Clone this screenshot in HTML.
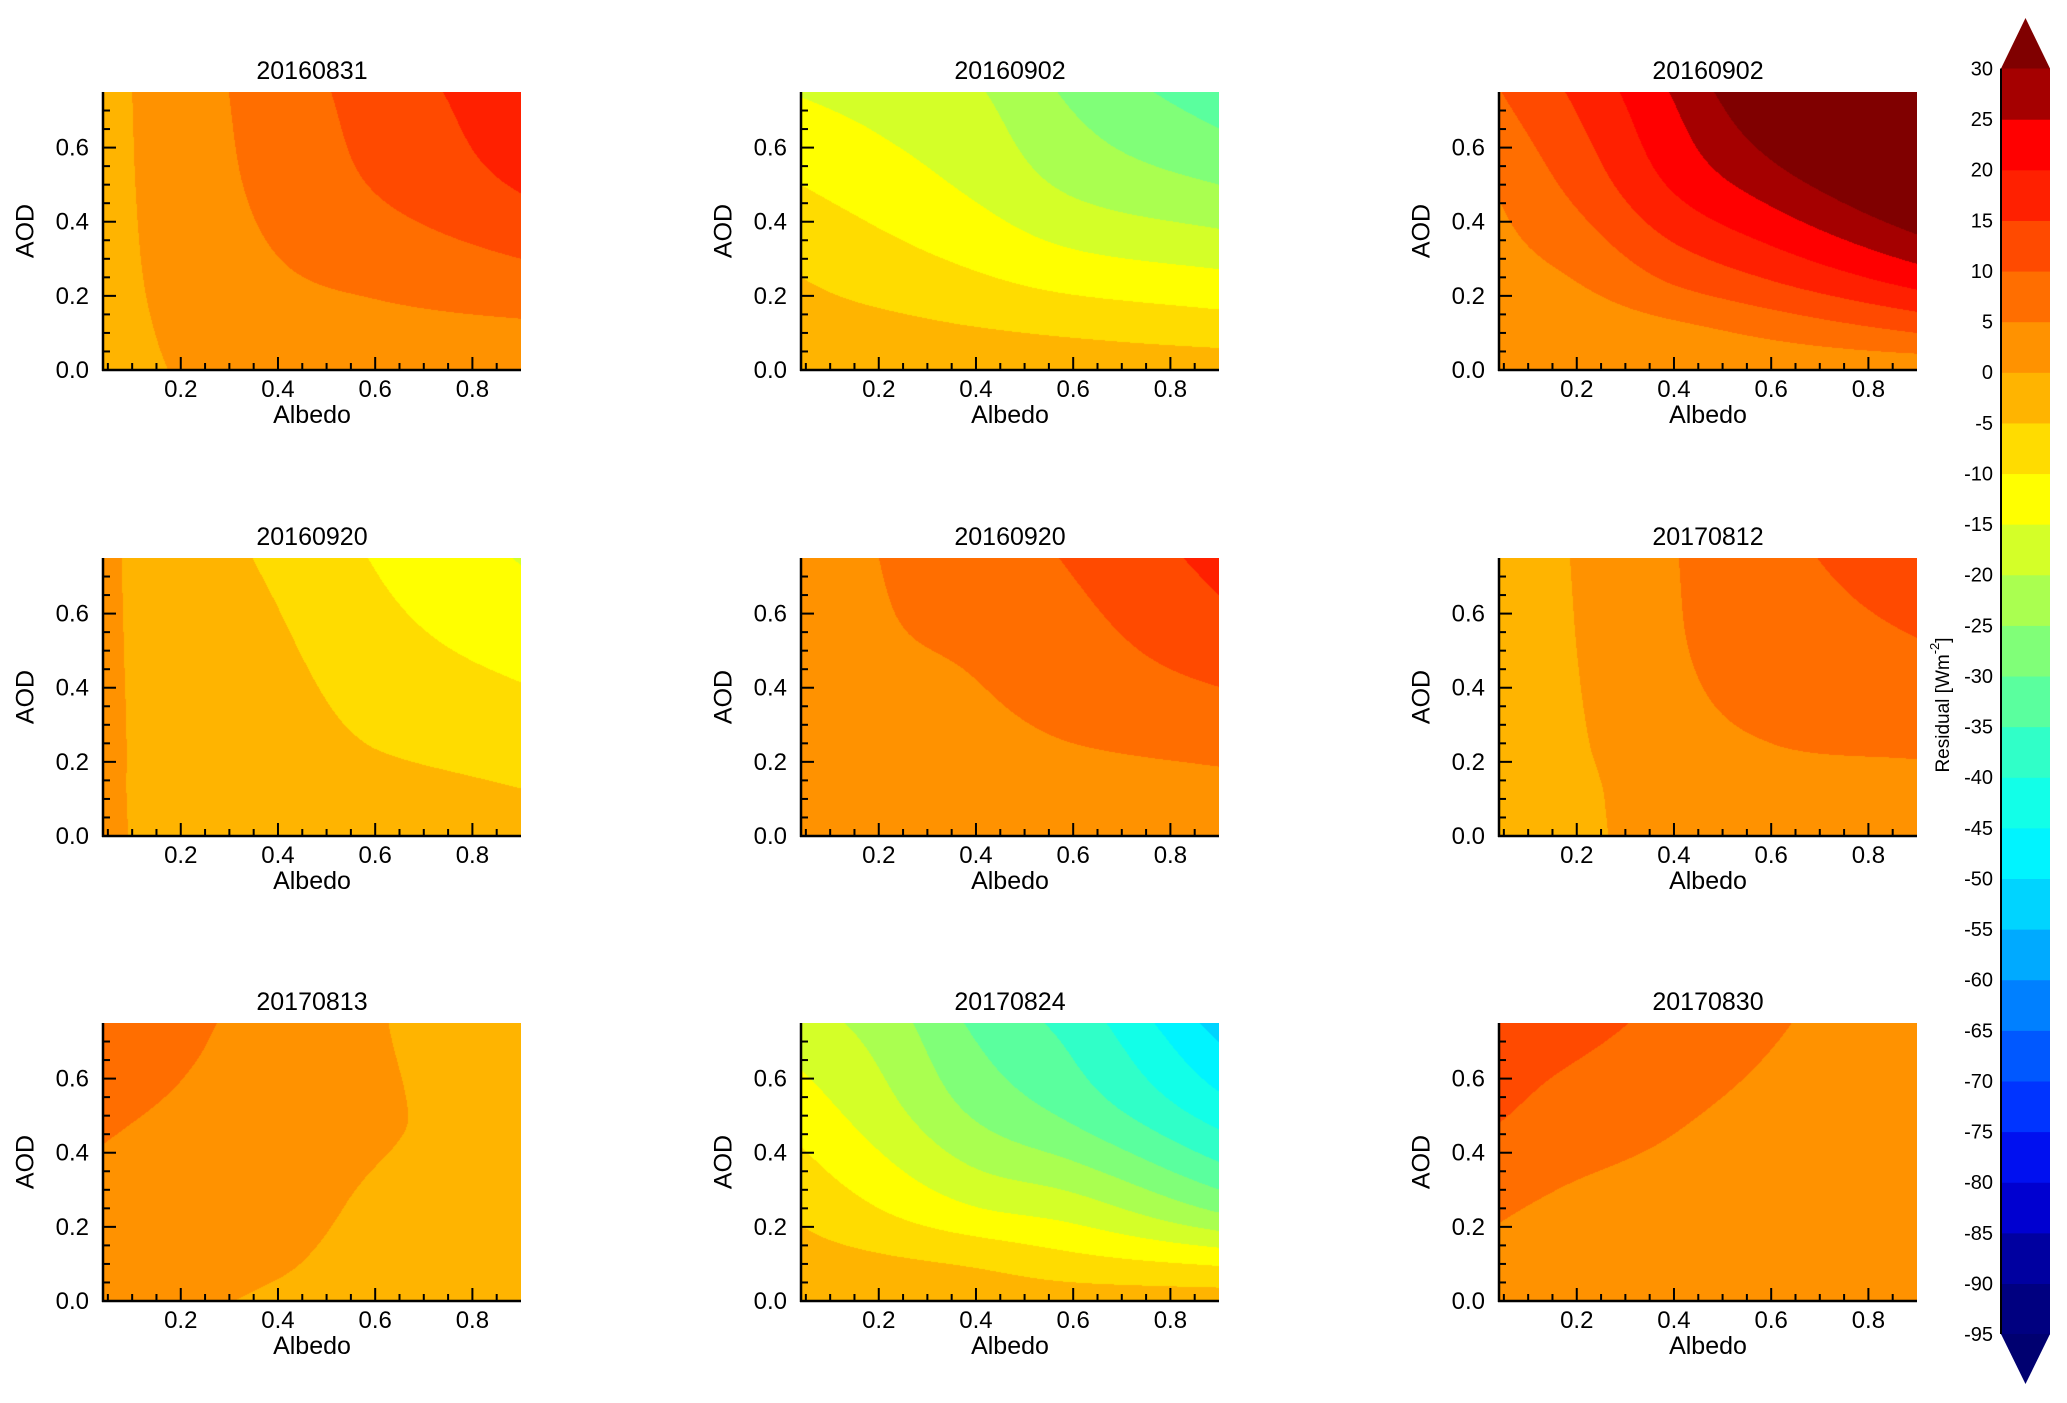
<!DOCTYPE html>
<html><head><meta charset="utf-8">
<style>
html,body{margin:0;padding:0;background:#fff;}
body{width:2067px;height:1403px;position:relative;overflow:hidden;font-family:"Liberation Sans",sans-serif;}
canvas{position:absolute;}
svg{position:absolute;left:0;top:0;}
</style></head>
<body>
<div id="root"></div>
<script>
// ---- data ----
const albedoGrid = [0.04, 0.2, 0.4, 0.6, 0.9];
const aodGrid = [0, 0.1, 0.25, 0.5, 0.75];
const panelTitles = ["20160831","20160902","20160902","20160920","20160920","20170812","20170813","20170824","20170830"];
// values[col][row] : col = albedo index, row = aod index
const p1 = [[-2,-1.8,-1.7,-1.6,-1.5],[0.3,0.8,1.5,2.2,2.5],[1.5,3,4.5,6.5,7.5],[2,3.5,6,10.3,12],[2.5,4,8.5,15.5,18.4]];
const p2 = [[-1.5,-3,-5,-10,-15.3],[-2,-3.5,-7,-12.5,-17],[-2,-4.5,-9.5,-16,-19.5],[-2,-5.5,-12,-21,-26],[-2,-7,-14,-25,-33]];
const p3 = [[1,2,3,5.5,9.8],[1,2,5.3,11.5,16],[1,3.5,11,20.7,25.5],[1,6,15.5,27.5,36],[1,10,22.5,37,45]];
const p4 = [[1,1,1,1,1],[-1.5,-1.8,-2,-2.5,-3],[-1.5,-2,-2.8,-4.3,-5.8],[-2,-3,-5.2,-8,-10.3],[-2.5,-4.5,-7,-11.5,-15.3]];
const p5 = [[2,2,2.5,3,3.5],[2.5,3,3.5,4.5,5],[2.5,3,4,5.5,7.5],[3,3.5,5,8,10.5],[3,4,6,12.5,16.5]];
const p6 = [[-3,-3,-3,-3,-3],[-1,-1,-0.5,0,0.3],[1.9,2.5,3.5,4.5,4.8],[2.5,3.5,5,7,8.5],[3,4,5.5,9.5,13]];
const p7 = [[2.5,3,4,5.5,7.5],[1,2,3,4.5,5.8],[-0.8,0.5,1.8,3.2,3.5],[-2.5,-1.8,-0.8,0.6,0.3],[-3,-2.8,-2.5,-1.5,-1.95]];
const p8 = [[-2,-3,-6,-12,-18],[-2,-4,-10,-17.5,-22],[-2,-5.5,-14.8,-25.5,-31],[-2,-8,-17.5,-31,-37],[-2,-10.5,-26,-42,-52]];
const p9 = [[3,4,5.5,10.3,12.5],[2.5,3,4,7.8,11.5],[2,2.5,3.3,5.5,8.5],[1.5,2,2.5,3.8,5.5],[1,1.5,2,2.3,2.5]];
const panels = [p1,p2,p3,p4,p5,p6,p7,p8,p9];
const levelColors = ["#000080","#0000a0","#0000d0","#0010f0","#0034ff","#0058ff","#0080ff","#00aaff","#00d4ff","#00f4ff","#12ffe8","#30ffc8","#5aff9e","#80ff78","#aaff50","#d4ff28","#ffff00","#ffdc00","#ffb400","#ff9200","#ff6e00","#ff4a00","#ff2000","#ff0000","#a50000"];
const overColor = "#800000", underColor = "#000070";
const cbTicks = [30,25,20,15,10,5,0,-5,-10,-15,-20,-25,-30,-35,-40,-45,-50,-55,-60,-65,-70,-75,-80,-85,-90,-95];
const xTicks = [0.2,0.4,0.6,0.8];
const yTicks = [0.0,0.2,0.4,0.6];

// ---- layout ----
const colLeft = [103, 801, 1499], rowTop = [92, 558, 1023];
const PW = 418, PH = 278;
const XMIN = 0.04, XMAX = 0.9, YMIN = 0, YMAX = 0.75;
const CB = {x:2001, w:49, top:68.5, bot:1334, vmax:30, vmin:-95};

const NS = "http://www.w3.org/2000/svg";
const svg = document.createElementNS(NS,"svg");
svg.setAttribute("width","2067"); svg.setAttribute("height","1403");
const root = document.getElementById("root");

function hex(c){return [parseInt(c.slice(1,3),16),parseInt(c.slice(3,5),16),parseInt(c.slice(5,7),16)];}
function colorFor(v){
  if(v>=30) return overColor;
  if(v<-95) return underColor;
  return levelColors[Math.floor((v+95)/5)];
}
// monotone cubic (Fritsch-Carlson) interpolation
function mono(xs,ys,x){
  const n=xs.length;
  if(x<=xs[0]) return ys[0]; if(x>=xs[n-1]) return ys[n-1];
  const d=[],m=[];
  for(let i=0;i<n-1;i++) d.push((ys[i+1]-ys[i])/(xs[i+1]-xs[i]));
  m[0]=d[0]; m[n-1]=d[n-2];
  for(let i=1;i<n-1;i++) m[i]=(d[i-1]*d[i]<=0)?0:(d[i-1]+d[i])/2;
  for(let i=0;i<n-1;i++){
    if(d[i]===0){m[i]=0;m[i+1]=0;continue;}
    const a=m[i]/d[i],b=m[i+1]/d[i],s=a*a+b*b;
    if(s>9){const t=3/Math.sqrt(s);m[i]=t*a*d[i];m[i+1]=t*b*d[i];}
  }
  let i=0; while(x>xs[i+1]) i++;
  const h=xs[i+1]-xs[i],t=(x-xs[i])/h,t2=t*t,t3=t2*t;
  return (2*t3-3*t2+1)*ys[i]+(t3-2*t2+t)*h*m[i]+(-2*t3+3*t2)*ys[i+1]+(t3-t2)*h*m[i+1];
}
function el(tag,attrs,parent){const e=document.createElementNS(NS,tag);for(const k in attrs)e.setAttribute(k,attrs[k]);(parent||svg).appendChild(e);return e;}

panels.forEach((g,idx)=>{
  const L=colLeft[idx%3], T=rowTop[Math.floor(idx/3)];
  const xs=v=>L+(v-XMIN)/(XMAX-XMIN)*PW;
  const ys=v=>T+PH-(v-YMIN)/(YMAX-YMIN)*PH;
  const cv=document.createElement("canvas");
  cv.width=PW; cv.height=PH;
  cv.style.left=L+"px"; cv.style.top=T+"px";
  
  
  const ctx=cv.getContext("2d"); const img=ctx.createImageData(PW,PH);
  for(let py=0;py<PH;py++){
    const d=YMAX-(py+0.5)/PH*(YMAX-YMIN);
    const colVals=g.map(col=>mono(aodGrid,col,d));
    for(let px=0;px<PW;px++){
      const a=XMIN+(px+0.5)/PW*(XMAX-XMIN);
      const c=hex(colorFor(mono(albedoGrid,colVals,a)));
      const o=(py*PW+px)*4; img.data[o]=c[0];img.data[o+1]=c[1];img.data[o+2]=c[2];img.data[o+3]=255;
    }
  }
  ctx.putImageData(img,0,0);
  root.appendChild(cv);

  const grp=el("g",{});
  
  
  const title=el("text",{x:L+PW/2,y:T-13,"text-anchor":"middle","font-size":"25","fill":"#000"},grp);
  title.textContent=panelTitles[idx];
  
  
  for(let k=1;k<=17;k++){
    const v=k*0.05; if(v<XMIN||v>XMAX) continue;
    const major=Math.abs(v*10-Math.round(v*10))<1e-6 && Math.round(v*10)%2===0;
    el("line",{x1:xs(v),x2:xs(v),y1:T+PH,y2:T+PH-(major?13:7),stroke:"#000","stroke-width":"2"},grp);
  }
  for(let k=0;k<=15;k++){
    const v=k*0.05; if(v>=YMAX) continue;
    const major=k%4===0;
    el("line",{x1:L,x2:L+(major?13:7),y1:ys(v),y2:ys(v),stroke:"#000","stroke-width":"2"},grp);
  }
  el("line",{x1:L,x2:L,y1:T,y2:T+PH+1,stroke:"#000","stroke-width":"2.5"},grp);
  el("line",{x1:L-1,x2:L+PW,y1:T+PH,y2:T+PH,stroke:"#000","stroke-width":"2.5"},grp);
  xTicks.forEach(v=>{
    const t=el("text",{x:xs(v),y:T+PH+27,"text-anchor":"middle","font-size":"24"},grp);
    t.textContent=v.toFixed(1);
    
    
  });
  yTicks.forEach(v=>{
    const t=el("text",{x:L-14,y:ys(v)+8,"text-anchor":"end","font-size":"24"},grp);
    t.textContent=v.toFixed(1);
    
    
  });
  const xt=el("text",{x:L+PW/2,y:T+PH+53,"text-anchor":"middle","font-size":"25"},grp);
  xt.textContent="Albedo";
  
  
  const yc=T+PH/2;
  const yt=el("text",{x:L-76,y:yc,"text-anchor":"middle","font-size":"25",transform:`rotate(-90 ${L-76} ${yc})`,"dominant-baseline":"middle"},grp);
  yt.textContent="AOD";
  
  
});

// ---- colorbar ----
const cbg=el("g",{});


const cy=v=>CB.top+(CB.vmax-v)/(CB.vmax-CB.vmin)*(CB.bot-CB.top);
levelColors.forEach((c,i)=>{
  const lo=-95+i*5, hi=lo+5;
  const r=el("rect",{x:CB.x,y:cy(hi),width:CB.w,height:cy(lo)-cy(hi)+0.6,fill:c},cbg);
  
  
});
const up=el("polygon",{points:`${CB.x},${CB.top} ${CB.x+CB.w},${CB.top} ${CB.x+CB.w/2},18`,fill:overColor},cbg);


const dn=el("polygon",{points:`${CB.x},${CB.bot} ${CB.x+CB.w},${CB.bot} ${CB.x+CB.w/2},1384`,fill:underColor},cbg);


el("line",{x1:CB.x,x2:CB.x,y1:CB.top,y2:CB.bot,stroke:"#000","stroke-width":"2"},cbg);
cbTicks.forEach(v=>{
  const t=el("text",{x:1993,y:cy(v)+7,"text-anchor":"end","font-size":"20"},cbg);
  t.textContent=String(v);
  
  
});
const cbt=el("text",{x:1944,y:705,"text-anchor":"middle","font-size":"19",transform:"rotate(-90 1944 705)","dominant-baseline":"middle"},cbg);
cbt.innerHTML='Residual [Wm<tspan dy="-8" font-size="13">-2</tspan><tspan dy="8">]</tspan>';



root.appendChild(svg);
</script>
</body></html>
